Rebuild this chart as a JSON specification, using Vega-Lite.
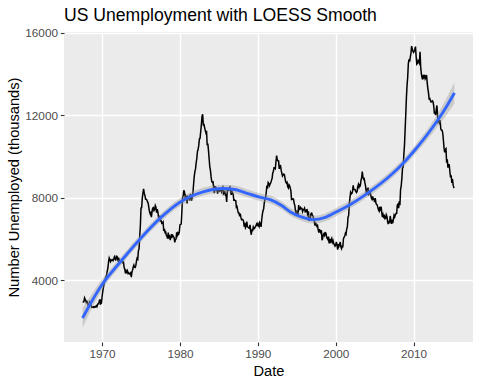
{
  "$schema": "https://vega.github.io/schema/vega-lite/v6.json",
  "autosize": "none",
  "width": 409,
  "height": 310,
  "padding": {"left": 64, "top": 32, "right": 7, "bottom": 42},
  "background": "white",
  "title": {"text": "US Unemployment with LOESS Smooth", "anchor": "start", "frame": "group", "fontSize": 17.6, "fontWeight": "normal", "color": "black", "font": "Liberation Sans", "baseline": "alphabetic", "offset": -10.5},
  "config": {
    "view": {"fill": "#EBEBEB", "stroke": null},
    "font": "Liberation Sans",
    "axis": {"domain": false, "gridColor": "white", "tickColor": "#333333", "labelColor": "#4D4D4D", "labelFont": "Liberation Sans", "labelFontSize": 11.73, "titleFont": "Liberation Sans", "titleFontSize": 14.67, "titleFontWeight": "normal", "titleColor": "black"}
  },
  "datasets": {
    "econ": [
{"d":"1967-07","u":2944},{"d":"1967-08","u":2945},{"d":"1967-09","u":2958},{"d":"1967-10","u":3143},{"d":"1967-11","u":3066},{"d":"1967-12","u":3018},
{"d":"1968-01","u":2878},{"d":"1968-02","u":3001},{"d":"1968-03","u":2877},{"d":"1968-04","u":2709},{"d":"1968-05","u":2740},{"d":"1968-06","u":2938},{"d":"1968-07","u":2883},{"d":"1968-08","u":2768},{"d":"1968-09","u":2686},{"d":"1968-10","u":2689},{"d":"1968-11","u":2715},{"d":"1968-12","u":2685},
{"d":"1969-01","u":2718},{"d":"1969-02","u":2692},{"d":"1969-03","u":2712},{"d":"1969-04","u":2758},{"d":"1969-05","u":2713},{"d":"1969-06","u":2816},{"d":"1969-07","u":2868},{"d":"1969-08","u":2856},{"d":"1969-09","u":3040},{"d":"1969-10","u":3049},{"d":"1969-11","u":2856},{"d":"1969-12","u":2884},
{"d":"1970-01","u":3201},{"d":"1970-02","u":3453},{"d":"1970-03","u":3635},{"d":"1970-04","u":3797},{"d":"1970-05","u":3919},{"d":"1970-06","u":4071},{"d":"1970-07","u":4175},{"d":"1970-08","u":4256},{"d":"1970-09","u":4456},{"d":"1970-10","u":4591},{"d":"1970-11","u":4898},{"d":"1970-12","u":5076},
{"d":"1971-01","u":4986},{"d":"1971-02","u":4903},{"d":"1971-03","u":4987},{"d":"1971-04","u":4959},{"d":"1971-05","u":4996},{"d":"1971-06","u":4949},{"d":"1971-07","u":5035},{"d":"1971-08","u":5134},{"d":"1971-09","u":5042},{"d":"1971-10","u":4954},{"d":"1971-11","u":5161},{"d":"1971-12","u":5154},
{"d":"1972-01","u":5019},{"d":"1972-02","u":4928},{"d":"1972-03","u":5038},{"d":"1972-04","u":4959},{"d":"1972-05","u":4922},{"d":"1972-06","u":4923},{"d":"1972-07","u":4913},{"d":"1972-08","u":4939},{"d":"1972-09","u":4849},{"d":"1972-10","u":4875},{"d":"1972-11","u":4602},{"d":"1972-12","u":4543},
{"d":"1973-01","u":4326},{"d":"1973-02","u":4452},{"d":"1973-03","u":4394},{"d":"1973-04","u":4459},{"d":"1973-05","u":4329},{"d":"1973-06","u":4363},{"d":"1973-07","u":4305},{"d":"1973-08","u":4305},{"d":"1973-09","u":4350},{"d":"1973-10","u":4144},{"d":"1973-11","u":4396},{"d":"1973-12","u":4489},
{"d":"1974-01","u":4644},{"d":"1974-02","u":4731},{"d":"1974-03","u":4634},{"d":"1974-04","u":4618},{"d":"1974-05","u":4705},{"d":"1974-06","u":4927},{"d":"1974-07","u":5063},{"d":"1974-08","u":5022},{"d":"1974-09","u":5437},{"d":"1974-10","u":5523},{"d":"1974-11","u":6140},{"d":"1974-12","u":6636},
{"d":"1975-01","u":7501},{"d":"1975-02","u":7520},{"d":"1975-03","u":7978},{"d":"1975-04","u":8210},{"d":"1975-05","u":8433},{"d":"1975-06","u":8220},{"d":"1975-07","u":8127},{"d":"1975-08","u":7928},{"d":"1975-09","u":7923},{"d":"1975-10","u":7897},{"d":"1975-11","u":7794},{"d":"1975-12","u":7744},
{"d":"1976-01","u":7534},{"d":"1976-02","u":7326},{"d":"1976-03","u":7230},{"d":"1976-04","u":7330},{"d":"1976-05","u":7053},{"d":"1976-06","u":7322},{"d":"1976-07","u":7490},{"d":"1976-08","u":7518},{"d":"1976-09","u":7380},{"d":"1976-10","u":7430},{"d":"1976-11","u":7620},{"d":"1976-12","u":7545},
{"d":"1977-01","u":7280},{"d":"1977-02","u":7443},{"d":"1977-03","u":7307},{"d":"1977-04","u":7059},{"d":"1977-05","u":6911},{"d":"1977-06","u":7134},{"d":"1977-07","u":6829},{"d":"1977-08","u":6925},{"d":"1977-09","u":6751},{"d":"1977-10","u":6763},{"d":"1977-11","u":6815},{"d":"1977-12","u":6386},
{"d":"1978-01","u":6489},{"d":"1978-02","u":6318},{"d":"1978-03","u":6337},{"d":"1978-04","u":6180},{"d":"1978-05","u":6127},{"d":"1978-06","u":6028},{"d":"1978-07","u":6309},{"d":"1978-08","u":6080},{"d":"1978-09","u":6125},{"d":"1978-10","u":5947},{"d":"1978-11","u":6077},{"d":"1978-12","u":6228},
{"d":"1979-01","u":6109},{"d":"1979-02","u":6173},{"d":"1979-03","u":6109},{"d":"1979-04","u":6069},{"d":"1979-05","u":5840},{"d":"1979-06","u":5959},{"d":"1979-07","u":5996},{"d":"1979-08","u":6320},{"d":"1979-09","u":6190},{"d":"1979-10","u":6296},{"d":"1979-11","u":6238},{"d":"1979-12","u":6325},
{"d":"1980-01","u":6683},{"d":"1980-02","u":6702},{"d":"1980-03","u":6729},{"d":"1980-04","u":7358},{"d":"1980-05","u":7984},{"d":"1980-06","u":8098},{"d":"1980-07","u":8363},{"d":"1980-08","u":8281},{"d":"1980-09","u":8021},{"d":"1980-10","u":8088},{"d":"1980-11","u":8023},{"d":"1980-12","u":7718},
{"d":"1981-01","u":8071},{"d":"1981-02","u":8051},{"d":"1981-03","u":7982},{"d":"1981-04","u":7869},{"d":"1981-05","u":8174},{"d":"1981-06","u":8098},{"d":"1981-07","u":7863},{"d":"1981-08","u":8036},{"d":"1981-09","u":8230},{"d":"1981-10","u":8646},{"d":"1981-11","u":9029},{"d":"1981-12","u":9267},
{"d":"1982-01","u":9397},{"d":"1982-02","u":9705},{"d":"1982-03","u":9895},{"d":"1982-04","u":10244},{"d":"1982-05","u":10335},{"d":"1982-06","u":10538},{"d":"1982-07","u":10849},{"d":"1982-08","u":10881},{"d":"1982-09","u":11217},{"d":"1982-10","u":11529},{"d":"1982-11","u":11938},{"d":"1982-12","u":12051},
{"d":"1983-01","u":11534},{"d":"1983-02","u":11545},{"d":"1983-03","u":11408},{"d":"1983-04","u":11268},{"d":"1983-05","u":11154},{"d":"1983-06","u":11246},{"d":"1983-07","u":10548},{"d":"1983-08","u":10623},{"d":"1983-09","u":10282},{"d":"1983-10","u":9887},{"d":"1983-11","u":9499},{"d":"1983-12","u":9331},
{"d":"1984-01","u":9008},{"d":"1984-02","u":8791},{"d":"1984-03","u":8746},{"d":"1984-04","u":8762},{"d":"1984-05","u":8456},{"d":"1984-06","u":8226},{"d":"1984-07","u":8537},{"d":"1984-08","u":8519},{"d":"1984-09","u":8367},{"d":"1984-10","u":8381},{"d":"1984-11","u":8198},{"d":"1984-12","u":8358},
{"d":"1985-01","u":8423},{"d":"1985-02","u":8321},{"d":"1985-03","u":8339},{"d":"1985-04","u":8395},{"d":"1985-05","u":8302},{"d":"1985-06","u":8460},{"d":"1985-07","u":8513},{"d":"1985-08","u":8196},{"d":"1985-09","u":8248},{"d":"1985-10","u":8298},{"d":"1985-11","u":8128},{"d":"1985-12","u":8138},
{"d":"1986-01","u":7795},{"d":"1986-02","u":8402},{"d":"1986-03","u":8383},{"d":"1986-04","u":8364},{"d":"1986-05","u":8439},{"d":"1986-06","u":8508},{"d":"1986-07","u":8319},{"d":"1986-08","u":8135},{"d":"1986-09","u":8310},{"d":"1986-10","u":8243},{"d":"1986-11","u":8159},{"d":"1986-12","u":7883},
{"d":"1987-01","u":7892},{"d":"1987-02","u":7865},{"d":"1987-03","u":7862},{"d":"1987-04","u":7542},{"d":"1987-05","u":7574},{"d":"1987-06","u":7398},{"d":"1987-07","u":7268},{"d":"1987-08","u":7261},{"d":"1987-09","u":7102},{"d":"1987-10","u":7227},{"d":"1987-11","u":7035},{"d":"1987-12","u":6936},
{"d":"1988-01","u":6953},{"d":"1988-02","u":6929},{"d":"1988-03","u":6876},{"d":"1988-04","u":6601},{"d":"1988-05","u":6779},{"d":"1988-06","u":6546},{"d":"1988-07","u":6605},{"d":"1988-08","u":6843},{"d":"1988-09","u":6604},{"d":"1988-10","u":6568},{"d":"1988-11","u":6537},{"d":"1988-12","u":6518},
{"d":"1989-01","u":6682},{"d":"1989-02","u":6359},{"d":"1989-03","u":6205},{"d":"1989-04","u":6468},{"d":"1989-05","u":6375},{"d":"1989-06","u":6577},{"d":"1989-07","u":6495},{"d":"1989-08","u":6511},{"d":"1989-09","u":6590},{"d":"1989-10","u":6630},{"d":"1989-11","u":6725},{"d":"1989-12","u":6667},
{"d":"1990-01","u":6752},{"d":"1990-02","u":6651},{"d":"1990-03","u":6598},{"d":"1990-04","u":6797},{"d":"1990-05","u":6742},{"d":"1990-06","u":6590},{"d":"1990-07","u":6922},{"d":"1990-08","u":7188},{"d":"1990-09","u":7368},{"d":"1990-10","u":7459},{"d":"1990-11","u":7764},{"d":"1990-12","u":7901},
{"d":"1991-01","u":8015},{"d":"1991-02","u":8265},{"d":"1991-03","u":8586},{"d":"1991-04","u":8439},{"d":"1991-05","u":8736},{"d":"1991-06","u":8692},{"d":"1991-07","u":8586},{"d":"1991-08","u":8666},{"d":"1991-09","u":8722},{"d":"1991-10","u":8842},{"d":"1991-11","u":8931},{"d":"1991-12","u":9198},
{"d":"1992-01","u":9283},{"d":"1992-02","u":9454},{"d":"1992-03","u":9460},{"d":"1992-04","u":9415},{"d":"1992-05","u":9744},{"d":"1992-06","u":10040},{"d":"1992-07","u":9850},{"d":"1992-08","u":9787},{"d":"1992-09","u":9781},{"d":"1992-10","u":9398},{"d":"1992-11","u":9565},{"d":"1992-12","u":9557},
{"d":"1993-01","u":9325},{"d":"1993-02","u":9183},{"d":"1993-03","u":9056},{"d":"1993-04","u":9110},{"d":"1993-05","u":9149},{"d":"1993-06","u":9121},{"d":"1993-07","u":8930},{"d":"1993-08","u":8763},{"d":"1993-09","u":8714},{"d":"1993-10","u":8750},{"d":"1993-11","u":8542},{"d":"1993-12","u":8477},
{"d":"1994-01","u":8630},{"d":"1994-02","u":8583},{"d":"1994-03","u":8470},{"d":"1994-04","u":8331},{"d":"1994-05","u":7915},{"d":"1994-06","u":7927},{"d":"1994-07","u":7946},{"d":"1994-08","u":7933},{"d":"1994-09","u":7734},{"d":"1994-10","u":7632},{"d":"1994-11","u":7375},{"d":"1994-12","u":7230},
{"d":"1995-01","u":7375},{"d":"1995-02","u":7187},{"d":"1995-03","u":7153},{"d":"1995-04","u":7645},{"d":"1995-05","u":7430},{"d":"1995-06","u":7427},{"d":"1995-07","u":7527},{"d":"1995-08","u":7484},{"d":"1995-09","u":7478},{"d":"1995-10","u":7328},{"d":"1995-11","u":7426},{"d":"1995-12","u":7423},
{"d":"1996-01","u":7491},{"d":"1996-02","u":7313},{"d":"1996-03","u":7318},{"d":"1996-04","u":7415},{"d":"1996-05","u":7423},{"d":"1996-06","u":7095},{"d":"1996-07","u":7337},{"d":"1996-08","u":6882},{"d":"1996-09","u":6979},{"d":"1996-10","u":7031},{"d":"1996-11","u":7236},{"d":"1996-12","u":7253},
{"d":"1997-01","u":7158},{"d":"1997-02","u":7102},{"d":"1997-03","u":7000},{"d":"1997-04","u":6873},{"d":"1997-05","u":6655},{"d":"1997-06","u":6799},{"d":"1997-07","u":6655},{"d":"1997-08","u":6608},{"d":"1997-09","u":6656},{"d":"1997-10","u":6454},{"d":"1997-11","u":6308},{"d":"1997-12","u":6476},
{"d":"1998-01","u":6368},{"d":"1998-02","u":6306},{"d":"1998-03","u":6422},{"d":"1998-04","u":5941},{"d":"1998-05","u":6047},{"d":"1998-06","u":6212},{"d":"1998-07","u":6259},{"d":"1998-08","u":6179},{"d":"1998-09","u":6300},{"d":"1998-10","u":6280},{"d":"1998-11","u":6100},{"d":"1998-12","u":6032},
{"d":"1999-01","u":5976},{"d":"1999-02","u":6111},{"d":"1999-03","u":5783},{"d":"1999-04","u":6004},{"d":"1999-05","u":5796},{"d":"1999-06","u":5951},{"d":"1999-07","u":6025},{"d":"1999-08","u":5838},{"d":"1999-09","u":5915},{"d":"1999-10","u":5778},{"d":"1999-11","u":5716},{"d":"1999-12","u":5653},
{"d":"2000-01","u":5708},{"d":"2000-02","u":5858},{"d":"2000-03","u":5733},{"d":"2000-04","u":5481},{"d":"2000-05","u":5758},{"d":"2000-06","u":5651},{"d":"2000-07","u":5747},{"d":"2000-08","u":5853},{"d":"2000-09","u":5625},{"d":"2000-10","u":5534},{"d":"2000-11","u":5639},{"d":"2000-12","u":5634},
{"d":"2001-01","u":6023},{"d":"2001-02","u":6089},{"d":"2001-03","u":6141},{"d":"2001-04","u":6271},{"d":"2001-05","u":6226},{"d":"2001-06","u":6484},{"d":"2001-07","u":6583},{"d":"2001-08","u":7042},{"d":"2001-09","u":7142},{"d":"2001-10","u":7694},{"d":"2001-11","u":8003},{"d":"2001-12","u":8258},
{"d":"2002-01","u":8182},{"d":"2002-02","u":8215},{"d":"2002-03","u":8304},{"d":"2002-04","u":8599},{"d":"2002-05","u":8399},{"d":"2002-06","u":8393},{"d":"2002-07","u":8390},{"d":"2002-08","u":8304},{"d":"2002-09","u":8251},{"d":"2002-10","u":8307},{"d":"2002-11","u":8520},{"d":"2002-12","u":8640},
{"d":"2003-01","u":8520},{"d":"2003-02","u":8618},{"d":"2003-03","u":8588},{"d":"2003-04","u":8842},{"d":"2003-05","u":8957},{"d":"2003-06","u":9266},{"d":"2003-07","u":9011},{"d":"2003-08","u":8896},{"d":"2003-09","u":8921},{"d":"2003-10","u":8732},{"d":"2003-11","u":8576},{"d":"2003-12","u":8317},
{"d":"2004-01","u":8370},{"d":"2004-02","u":8167},{"d":"2004-03","u":8491},{"d":"2004-04","u":8170},{"d":"2004-05","u":8212},{"d":"2004-06","u":8286},{"d":"2004-07","u":8136},{"d":"2004-08","u":7990},{"d":"2004-09","u":7927},{"d":"2004-10","u":8061},{"d":"2004-11","u":7932},{"d":"2004-12","u":7934},
{"d":"2005-01","u":7784},{"d":"2005-02","u":7980},{"d":"2005-03","u":7737},{"d":"2005-04","u":7672},{"d":"2005-05","u":7651},{"d":"2005-06","u":7524},{"d":"2005-07","u":7406},{"d":"2005-08","u":7345},{"d":"2005-09","u":7553},{"d":"2005-10","u":7453},{"d":"2005-11","u":7566},{"d":"2005-12","u":7279},
{"d":"2006-01","u":7064},{"d":"2006-02","u":7184},{"d":"2006-03","u":7072},{"d":"2006-04","u":7120},{"d":"2006-05","u":6980},{"d":"2006-06","u":7001},{"d":"2006-07","u":7175},{"d":"2006-08","u":7091},{"d":"2006-09","u":6847},{"d":"2006-10","u":6727},{"d":"2006-11","u":6872},{"d":"2006-12","u":6762},
{"d":"2007-01","u":7116},{"d":"2007-02","u":6927},{"d":"2007-03","u":6731},{"d":"2007-04","u":6850},{"d":"2007-05","u":6766},{"d":"2007-06","u":6979},{"d":"2007-07","u":7149},{"d":"2007-08","u":7067},{"d":"2007-09","u":7170},{"d":"2007-10","u":7237},{"d":"2007-11","u":7240},{"d":"2007-12","u":7645},
{"d":"2008-01","u":7685},{"d":"2008-02","u":7497},{"d":"2008-03","u":7822},{"d":"2008-04","u":7637},{"d":"2008-05","u":8395},{"d":"2008-06","u":8575},{"d":"2008-07","u":8937},{"d":"2008-08","u":9438},{"d":"2008-09","u":9494},{"d":"2008-10","u":10074},{"d":"2008-11","u":10538},{"d":"2008-12","u":11286},
{"d":"2009-01","u":12058},{"d":"2009-02","u":12898},{"d":"2009-03","u":13426},{"d":"2009-04","u":13853},{"d":"2009-05","u":14499},{"d":"2009-06","u":14707},{"d":"2009-07","u":14601},{"d":"2009-08","u":14814},{"d":"2009-09","u":15009},{"d":"2009-10","u":15352},{"d":"2009-11","u":15219},{"d":"2009-12","u":15098},
{"d":"2010-01","u":15046},{"d":"2010-02","u":15113},{"d":"2010-03","u":15202},{"d":"2010-04","u":15325},{"d":"2010-05","u":14849},{"d":"2010-06","u":14474},{"d":"2010-07","u":14512},{"d":"2010-08","u":14648},{"d":"2010-09","u":14579},{"d":"2010-10","u":14516},{"d":"2010-11","u":15081},{"d":"2010-12","u":14348},
{"d":"2011-01","u":14013},{"d":"2011-02","u":13820},{"d":"2011-03","u":13737},{"d":"2011-04","u":13957},{"d":"2011-05","u":13855},{"d":"2011-06","u":13962},{"d":"2011-07","u":13763},{"d":"2011-08","u":13818},{"d":"2011-09","u":13948},{"d":"2011-10","u":13594},{"d":"2011-11","u":13302},{"d":"2011-12","u":13093},
{"d":"2012-01","u":12797},{"d":"2012-02","u":12813},{"d":"2012-03","u":12713},{"d":"2012-04","u":12646},{"d":"2012-05","u":12660},{"d":"2012-06","u":12692},{"d":"2012-07","u":12656},{"d":"2012-08","u":12471},{"d":"2012-09","u":12115},{"d":"2012-10","u":12124},{"d":"2012-11","u":12005},{"d":"2012-12","u":12298},
{"d":"2013-01","u":12471},{"d":"2013-02","u":11950},{"d":"2013-03","u":11689},{"d":"2013-04","u":11760},{"d":"2013-05","u":11654},{"d":"2013-06","u":11751},{"d":"2013-07","u":11335},{"d":"2013-08","u":11279},{"d":"2013-09","u":11270},{"d":"2013-10","u":11136},{"d":"2013-11","u":10787},{"d":"2013-12","u":10404},
{"d":"2014-01","u":10202},{"d":"2014-02","u":10349},{"d":"2014-03","u":10380},{"d":"2014-04","u":9702},{"d":"2014-05","u":9859},{"d":"2014-06","u":9460},{"d":"2014-07","u":9608},{"d":"2014-08","u":9599},{"d":"2014-09","u":9262},{"d":"2014-10","u":8990},{"d":"2014-11","u":9090},{"d":"2014-12","u":8717},
{"d":"2015-01","u":8903},{"d":"2015-02","u":8610},{"d":"2015-03","u":8504},{"d":"2015-04","u":8526}
    ],
    "smooth": [
{"d":"1967-07-01","fit":2170,"lo":1690,"hi":2650},
{"d":"1968-07-01","fit":2860,"lo":2500,"hi":3220},
{"d":"1970-01-01","fit":3790,"lo":3530,"hi":4050},
{"d":"1972-06-01","fit":4920,"lo":4710,"hi":5130},
{"d":"1975-01-01","fit":6050,"lo":5860,"hi":6240},
{"d":"1977-07-01","fit":7020,"lo":6830,"hi":7210},
{"d":"1980-01-01","fit":7780,"lo":7590,"hi":7970},
{"d":"1981-06-01","fit":8070,"lo":7880,"hi":8260},
{"d":"1983-02-01","fit":8300,"lo":8110,"hi":8490},
{"d":"1985-07-01","fit":8445,"lo":8255,"hi":8635},
{"d":"1987-01-01","fit":8400,"lo":8210,"hi":8590},
{"d":"1988-10-01","fit":8200,"lo":8010,"hi":8390},
{"d":"1990-04-01","fit":8030,"lo":7840,"hi":8220},
{"d":"1991-09-01","fit":7900,"lo":7710,"hi":8090},
{"d":"1993-01-01","fit":7640,"lo":7450,"hi":7830},
{"d":"1994-04-01","fit":7300,"lo":7110,"hi":7490},
{"d":"1995-09-01","fit":7060,"lo":6870,"hi":7250},
{"d":"1997-02-01","fit":6940,"lo":6750,"hi":7130},
{"d":"1998-09-01","fit":7050,"lo":6860,"hi":7240},
{"d":"2000-04-01","fit":7345,"lo":7155,"hi":7535},
{"d":"2002-01-01","fit":7700,"lo":7510,"hi":7890},
{"d":"2004-03-01","fit":8233,"lo":8043,"hi":8423},
{"d":"2007-03-01","fit":9124,"lo":8934,"hi":9314},
{"d":"2008-12-01","fit":9770,"lo":9570,"hi":9970},
{"d":"2010-05-01","fit":10385,"lo":10165,"hi":10605},
{"d":"2013-01-01","fit":11709,"lo":11409,"hi":12009},
{"d":"2014-03-01","fit":12380,"lo":11980,"hi":12780},
{"d":"2015-04-01","fit":13082,"lo":12572,"hi":13592}
    ]
  },
  "resolve": {"axis": {"x": "independent", "y": "independent"}},
  "layer": [
    {
      "data": {"name": "econ"},
      "mark": {"type": "line", "color": "black", "strokeWidth": 1.5},
      "encoding": {
        "x": {"field": "d", "type": "temporal", "title": "Date",
          "scale": {"type": "utc", "domain": ["1965-02-09", "2017-08-20"]},
          "axis": {"orient": "bottom", "values": [{"year": 1970, "utc": true}, {"year": 1980, "utc": true}, {"year": 1990, "utc": true}, {"year": 2000, "utc": true}, {"year": 2010, "utc": true}], "format": "%Y", "gridWidth": 1.4, "tickSize": 3.67, "tickWidth": 1.1, "labelPadding": 2.9, "titlePadding": 3}},
        "y": {"field": "u", "type": "quantitative", "title": "Number Unemployed (thousands)",
          "scale": {"domain": [1005, 16035], "nice": false, "zero": false},
          "axis": {"orient": "left", "values": [4000, 8000, 12000, 16000], "format": "d", "gridWidth": 1.4, "tickSize": 3.67, "tickWidth": 1.1, "labelPadding": 2.9, "titlePadding": 3}}
      }
    },
    {
      "data": {"name": "smooth"},
      "mark": {"type": "area", "color": "#999999", "opacity": 0.4, "interpolate": "monotone"},
      "encoding": {
        "x": {"field": "d", "type": "temporal",
          "axis": {"orient": "top", "values": [{"year": 1975, "utc": true}, {"year": 1985, "utc": true}, {"year": 1995, "utc": true}, {"year": 2005, "utc": true}, {"year": 2015, "utc": true}], "labels": false, "ticks": false, "domain": false, "title": null, "gridWidth": 0.7}},
        "y": {"field": "lo", "type": "quantitative",
          "axis": {"orient": "right", "values": [2000, 6000, 10000, 14000], "labels": false, "ticks": false, "domain": false, "title": null, "gridWidth": 0.7}},
        "y2": {"field": "hi"}
      }
    },
    {
      "data": {"name": "smooth"},
      "mark": {"type": "line", "color": "#3366FF", "strokeWidth": 2.9, "interpolate": "monotone"},
      "encoding": {
        "x": {"field": "d", "type": "temporal", "axis": null},
        "y": {"field": "fit", "type": "quantitative", "axis": null}
      }
    }
  ]
}
